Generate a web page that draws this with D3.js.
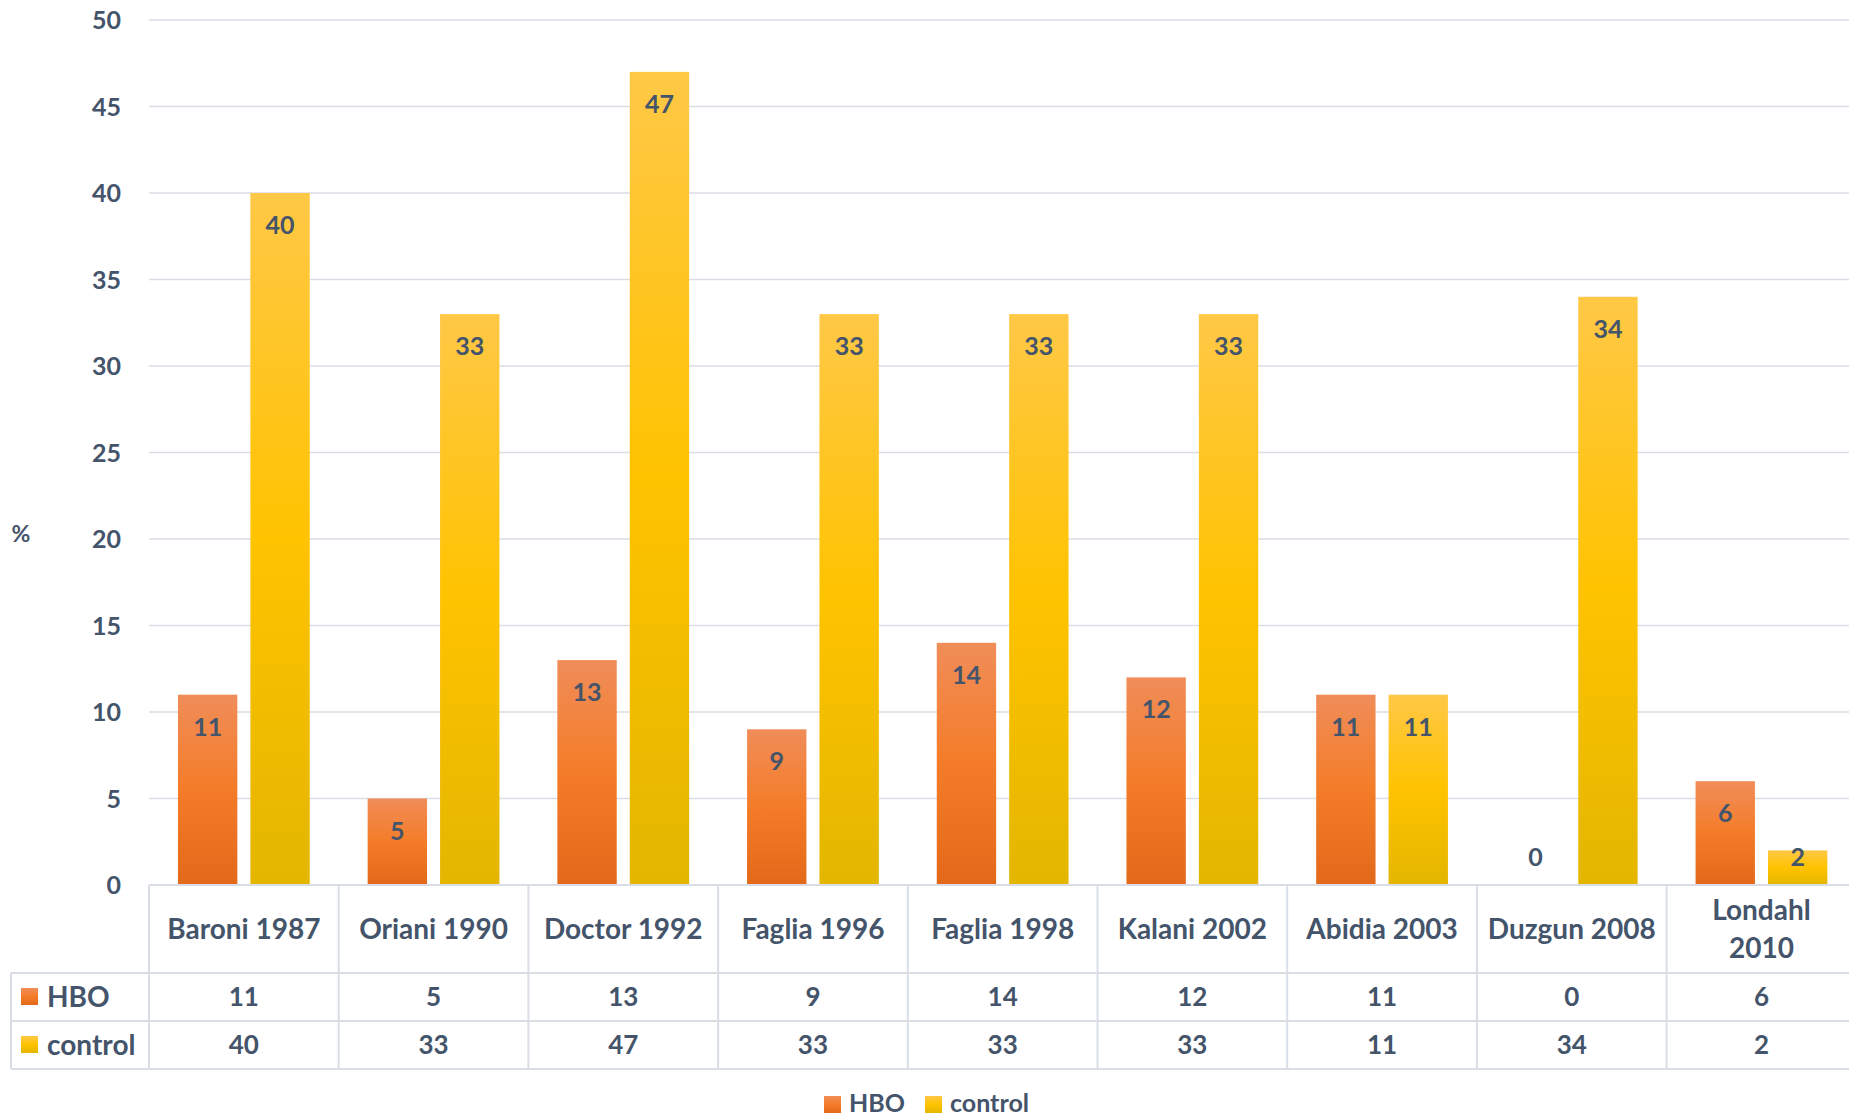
<!DOCTYPE html>
<html>
<head>
<meta charset="utf-8">
<script src="https://cdn.jsdelivr.net/npm/d3@7"></script>
<style>
    body { margin: 0; background: #fff; overflow: hidden; }
    svg text { font-family: Lato, "Open Sans", sans-serif; font-weight: bold; fill: #44546A; }
</style>
</head>
<body>
<svg id="chart"></svg>
<script>
// Chart data
const studies = ['Baroni 1987', 'Oriani 1990', 'Doctor 1992', 'Faglia 1996', 'Faglia 1998',
    'Kalani 2002', 'Abidia 2003', 'Duzgun 2008', 'Londahl 2010'];
const series = ['HBO', 'control'];
const hbo = [11, 5, 13, 9, 14, 12, 11, 0, 6];
const control = [40, 33, 47, 33, 33, 33, 11, 34, 2];
const yTicks = [0, 5, 10, 15, 20, 25, 30, 35, 40, 45, 50];
const yLabel = '%';

const width = 1849, height = 1118;
const plotLeft = 149, colW = 189.7;
const plotTop = 20, base = 885;
const rowH = [88, 48, 48];     // header, HBO, control
const tableLeft = 11;
const gridColor = '#D9DEE6';

const svg = d3.select('#chart').attr('width', width).attr('height', height);
const defs = svg.append('defs');

// Office-style vertical gradients
function gradient(id, stops) {
    const gr = defs.append('linearGradient').attr('id', id)
        .attr('x1', 0).attr('y1', 0).attr('x2', 0).attr('y2', 1);
    stops.forEach(([o, c]) => gr.append('stop').attr('offset', o).attr('stop-color', c));
}
gradient('g-hbo', [[0, '#F08D59'], [0.5, '#F47C28'], [1, '#E3691A']]);
gradient('g-control', [[0, '#FFC846'], [0.5, '#FFC300'], [1, '#E3B600']]);
const fills = { HBO: 'url(#g-hbo)', control: 'url(#g-control)' };
const values = { HBO: hbo, control: control };

const x = d3.scaleBand().domain(studies).range([plotLeft, plotLeft + studies.length * colW]);
const x1 = d3.scaleBand().domain(series).range([0, x.bandwidth()])
    .paddingInner(0.18).paddingOuter(0.4);
const y = d3.scaleLinear().domain([0, 50]).range([base, plotTop]);
const plotRight = width;

// gridlines
svg.append('g').selectAll('line')
    .data(yTicks.filter(t => t > 0))
    .join('line')
    .attr('x1', plotLeft).attr('x2', plotRight)
    .attr('y1', d => y(d)).attr('y2', d => y(d))
    .attr('stroke', gridColor).attr('stroke-width', 1.5);

// y axis labels
svg.append('g').selectAll('text')
    .data(yTicks)
    .join('text')
    .attr('x', 121)
    .attr('y', d => y(d))
    .attr('dy', '0.36em')
    .attr('text-anchor', 'end')
    .attr('font-size', 25)
    .text(d => d);

svg.append('text')
    .attr('x', 21).attr('y', y(20.3)).attr('dy', '0.36em')
    .attr('text-anchor', 'middle')
    .attr('font-size', 23)
    .text(yLabel);

// bars
const groups = svg.append('g').selectAll('g')
    .data(studies)
    .join('g')
    .attr('transform', d => `translate(${x(d)},0)`);

groups.each(function(study, i) {
    const g = d3.select(this);
    series.forEach(s => {
        const v = values[s][i];
        g.append('rect')
            .attr('x', x1(s))
            .attr('y', y(v))
            .attr('width', x1.bandwidth())
            .attr('height', base - y(v))
            .attr('fill', fills[s]);
        g.append('text')
            .attr('x', x1(s) + x1.bandwidth() / 2)
            .attr('y', Math.min(y(v) + 32, base - 28))
            .attr('dy', '0.36em')
            .attr('text-anchor', 'middle')
            .attr('font-size', 25)
            .text(v);
    });
});

// data table
const rowTop = [base, base + rowH[0], base + rowH[0] + rowH[1]];
const tableBottom = base + rowH[0] + rowH[1] + rowH[2];
const table = svg.append('g');

// horizontal lines
table.append('line').attr('x1', plotLeft).attr('x2', plotRight).attr('y1', base).attr('y2', base)
    .attr('stroke', gridColor).attr('stroke-width', 2);
[rowTop[1], rowTop[2], tableBottom].forEach(yy => {
    table.append('line').attr('x1', tableLeft).attr('x2', plotRight).attr('y1', yy).attr('y2', yy)
        .attr('stroke', gridColor).attr('stroke-width', 2);
});
// vertical lines
table.append('line').attr('x1', tableLeft).attr('x2', tableLeft)
    .attr('y1', rowTop[1]).attr('y2', tableBottom)
    .attr('stroke', gridColor).attr('stroke-width', 2);
table.selectAll('.vline')
    .data(studies)
    .join('line')
    .attr('class', 'vline')
    .attr('x1', d => x(d)).attr('x2', d => x(d))
    .attr('y1', base).attr('y2', tableBottom)
    .attr('stroke', gridColor).attr('stroke-width', 2);

// header labels (wrap if the visible cell is too narrow)
studies.forEach(study => {
    const cx0 = x(study);
    const visible = Math.min(cx0 + colW, width) - cx0;
    const t = table.append('text')
        .attr('text-anchor', 'middle')
        .attr('font-size', 28)
        .text(study);
    const w = t.node().getComputedTextLength();
    const cx = cx0 + colW / 2;
    if (w > visible - 18) {
        const words = study.split(' ');
        t.text(null);
        words.forEach((wd, k) => {
            t.append('tspan')
                .attr('x', cx)
                .attr('y', rowTop[0] + rowH[0] / 2 + (k - (words.length - 1) / 2) * 38)
                .attr('dy', '0.36em')
                .text(wd);
        });
    } else {
        t.attr('x', cx).attr('y', rowTop[0] + rowH[0] / 2).attr('dy', '0.36em');
    }
});

// rows
series.forEach((s, r) => {
    const cy = rowTop[r + 1] + rowH[r + 1] / 2;
    table.append('rect')
        .attr('x', 21).attr('y', cy - 9).attr('width', 17).attr('height', 17)
        .attr('fill', fills[s]);
    table.append('text')
        .attr('x', 47).attr('y', cy).attr('dy', '0.36em')
        .attr('font-size', 28)
        .text(s);
    table.selectAll(null)
        .data(studies)
        .join('text')
        .attr('x', d => x(d) + colW / 2)
        .attr('y', cy).attr('dy', '0.36em')
        .attr('text-anchor', 'middle')
        .attr('font-size', 26)
        .text((d, i) => values[s][i]);
});

// legend at bottom
const legend = svg.append('g');
const legendItems = [{ s: 'HBO', x: 824 }, { s: 'control', x: 925 }];
legendItems.forEach(item => {
    legend.append('rect')
        .attr('x', item.x).attr('y', 1096).attr('width', 17).attr('height', 17)
        .attr('fill', fills[item.s]);
    legend.append('text')
        .attr('x', item.x + 25).attr('y', 1112)
        .attr('font-size', 25)
        .text(item.s);
});
</script>
</body>
</html>
